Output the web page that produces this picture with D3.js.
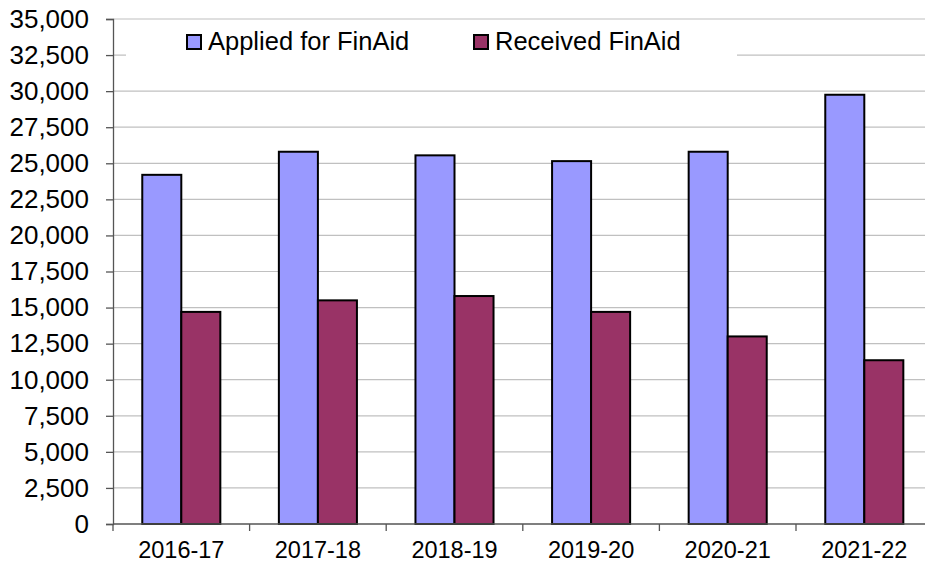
<!DOCTYPE html>
<html>
<head>
<meta charset="utf-8">
<script src="https://cdn.jsdelivr.net/npm/d3@7"></script>
<style>
    body { margin: 0; background: #fff; }
    svg { display: block; font-family: "Liberation Sans", Arial, sans-serif; }
</style>
</head>
<body>
<div id="chart"></div>
<script>
let years = ["2016-17", "2017-18", "2018-19", "2019-20", "2020-21", "2021-22"];
let seriesNames = ["Applied for FinAid", "Received FinAid"];
let applied = [24200, 25800, 25550, 25150, 25800, 29750];
let received = [14700, 15500, 15800, 14700, 13000, 11350];
let yTicks = d3.range(0, 35001, 2500);

let colors = ["#9999FF", "#993366"];

let width = 925, height = 565;
let margin = {top: 19, left: 113, bottom: 41};
let plotRight = 932.6;

let svg = d3.select("#chart").append("svg")
    .attr("width", width)
    .attr("height", height);

let y = d3.scaleLinear()
    .domain([0, 35000])
    .range([height - margin.bottom, margin.top]);

let x0 = d3.scaleBand()
    .domain(years)
    .range([margin.left, plotRight]);

let x1 = d3.scaleBand()
    .domain(seriesNames)
    .range([0, x0.bandwidth()])
    .paddingOuter(0.75);

// gridlines
svg.append("g")
    .selectAll("line")
    .data(yTicks.filter(d => d > 0))
    .enter().append("line")
    .attr("x1", margin.left)
    .attr("x2", plotRight)
    .attr("y1", d => y(d))
    .attr("y2", d => y(d))
    .attr("stroke", "#c0c0c0")
    .attr("stroke-width", 1.2);

// legend box sits over the grid
svg.append("rect")
    .attr("x", 126)
    .attr("y", 27)
    .attr("width", 611)
    .attr("height", 37)
    .attr("fill", "#fff");

// bars
let rows = years.map((yr, i) => ({year: yr, values: [applied[i], received[i]]}));

let groups = svg.append("g")
    .selectAll("g")
    .data(rows)
    .enter().append("g")
    .attr("transform", d => `translate(${x0(d.year)},0)`);

groups.selectAll("rect")
    .data(d => d.values.map((v, j) => ({name: seriesNames[j], value: v, idx: j})))
    .enter().append("rect")
    .attr("x", d => x1(d.name))
    .attr("width", x1.bandwidth())
    .attr("y", d => y(d.value))
    .attr("height", d => y(0) - y(d.value))
    .attr("fill", d => colors[d.idx])
    .attr("stroke", "#000")
    .attr("stroke-width", 2);

// y axis
let yAxis = svg.append("g")
    .attr("transform", `translate(${margin.left},0)`)
    .call(d3.axisLeft(y).tickValues(yTicks).tickSize(7).tickPadding(17)
        .tickFormat(d3.format(",")));
yAxis.select(".domain").attr("stroke", "#555").attr("stroke-width", 1.3);
yAxis.selectAll(".tick line").attr("stroke", "#555").attr("stroke-width", 1.3);
yAxis.selectAll("text")
    .attr("font-size", 26)
    .attr("font-family", "Liberation Sans, Arial, sans-serif")
    .attr("fill", "#000");

// x axis, ticks on category boundaries
let xAxis = svg.append("g")
    .attr("transform", `translate(0,${y(0)})`);
xAxis.append("line")
    .attr("x1", margin.left)
    .attr("x2", plotRight)
    .attr("stroke", "#555")
    .attr("stroke-width", 1.3);
xAxis.selectAll(".bound")
    .data(years)
    .enter().append("line")
    .attr("class", "bound")
    .attr("x1", d => x0(d))
    .attr("x2", d => x0(d))
    .attr("y1", 0)
    .attr("y2", 7)
    .attr("stroke", "#555")
    .attr("stroke-width", 1.3);
xAxis.selectAll("text")
    .data(years)
    .enter().append("text")
    .attr("x", d => x0(d) + x0.bandwidth() / 2)
    .attr("y", 34)
    .attr("text-anchor", "middle")
    .attr("font-size", 23.5)
    .text(d => d);

// legend
let legendX = [187, 474];
let legend = svg.append("g")
    .selectAll("g")
    .data(seriesNames)
    .enter().append("g")
    .attr("transform", (d, i) => `translate(${legendX[i]},35)`);

legend.append("rect")
    .attr("width", 14)
    .attr("height", 14)
    .attr("fill", (d, i) => colors[i])
    .attr("stroke", "#000")
    .attr("stroke-width", 2);

legend.append("text")
    .attr("x", 21)
    .attr("y", 15)
    .attr("font-size", 25.5)
    .text(d => d);
</script>
</body>
</html>
